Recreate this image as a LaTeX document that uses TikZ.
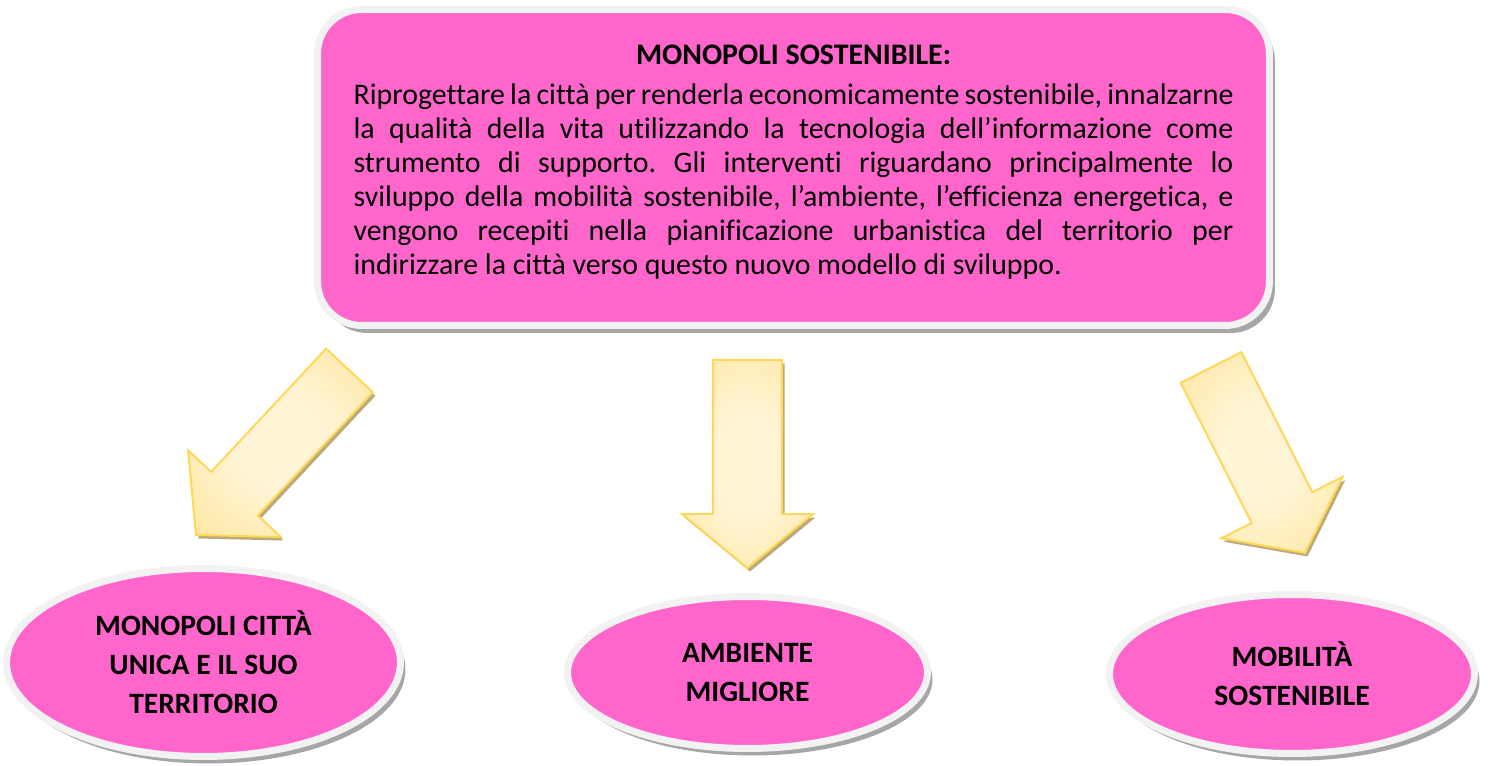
\documentclass[tikz,border=0pt]{standalone}
\usepackage{fontspec}
\setmainfont{Carlito}[Ligatures=NoCommon]
\usepackage{tikz}
\usetikzlibrary{shapes.geometric, shadows, calc}
\definecolor{boxpink}{HTML}{FF66CC}
\definecolor{rimgrey}{HTML}{F2F2F2}
\definecolor{shadegrey}{HTML}{A6A6A6}
\definecolor{arrowlight}{HTML}{FFF4D6}
\definecolor{arrowdark}{HTML}{FFDA68}
\definecolor{arrowline}{HTML}{FFD754}
\definecolor{arrowshade}{HTML}{BBAB7A}
\pgfdeclareradialshading{arrowglow}{\pgfpoint{0bp}{0bp}}{color(0bp)=(arrowlight); color(12bp)=(arrowlight); color(60bp)=(arrowdark); color(75bp)=(arrowdark)}
\tikzstyle{bigbox} = [rectangle, rounded corners=0.88cm,
minimum width=19.04cm,
minimum height=6.32cm,
text width=17.6cm,
inner sep=0pt,
align=justify,
font=\fontsize{17}{19.35}\selectfont\frenchspacing,
draw=rimgrey, line width=0.14cm,
fill=boxpink,
drop shadow={shadow xshift=0.11cm, shadow yshift=-0.15cm, fill=shadegrey, opacity=1}]
\tikzstyle{goal} = [ellipse, inner sep=0pt,
align=center,
font=\bfseries\fontsize{16.8}{22.2}\selectfont,
draw=rimgrey, line width=0.14cm,
fill=boxpink,
drop shadow={shadow xshift=0.1cm, shadow yshift=-0.14cm, fill=shadegrey, opacity=1}]
\tikzstyle{arrowbody} = [draw=arrowline, line width=1.1pt, shading=arrowglow]
\tikzstyle{arrowshadow} = [fill=arrowshade, transform canvas={xshift=0.05cm, yshift=-0.07cm}]
% tail, tip, shaft half width, head half width, head length
\newcommand{\blockarrow}[5]{%
\coordinate (hb) at ($(#2)!#5!(#1)$);
\foreach \sty in {arrowshadow,arrowbody}
\path[\sty] ($(#1)!#3!90:(#2)$) -- ($(hb)!#3!90:(#2)$) -- ($(hb)!#4!90:(#2)$) -- (#2)
-- ($(hb)!#4!-90:(#2)$) -- ($(hb)!#3!-90:(#2)$) -- ($(#1)!#3!-90:(#2)$) -- cycle;
}

\begin{document}
\begin{tikzpicture}[x=0.02cm, y=-0.02cm]
\useasboundingbox (0,0) rectangle (1488,766);

\node (main) [bigbox] at (793.5,167.5) {\centerline{\bfseries MONOPOLI SOSTENIBILE:}\par\vspace{3pt}
Riprogettare la città per renderla economicamente sostenibile, innalzarne\linebreak
la qualità della vita utilizzando la tecnologia dell’informazione come\linebreak
strumento di supporto. Gli interventi riguardano principalmente lo\linebreak
sviluppo della mobilità sostenibile, l’ambiente, l’efficienza energetica, e\linebreak
vengono recepiti nella pianificazione urbanistica del territorio per\linebreak
indirizzare la città verso questo nuovo modello di sviluppo.\par\kern6pt\hrule height 0pt width 0pt};

\node (city) [goal, minimum width=7.88cm, minimum height=3.76cm] at (203.5,662.5) {MONOPOLI CITTÀ\\UNICA E IL SUO\\TERRITORIO};

\node (env) [goal, minimum width=7.2cm, minimum height=3.04cm] at (747.5,672.5) {AMBIENTE\\MIGLIORE};

\node (mob) [goal, minimum width=7.3cm, minimum height=3.18cm] at (1292,674) {MOBILITÀ\\SOSTENIBILE};

\coordinate (ltail) at (349.5,370.5);
\coordinate (ltip) at (196,535);
\coordinate (mtail) at (747.5,360);
\coordinate (mtip) at (747.5,568);
\coordinate (rtail) at (1211,367.5);
\coordinate (rtip) at (1305,553);

\blockarrow{ltail}{ltip}{0.64cm}{1.27cm}{1.13cm}
\blockarrow{mtail}{mtip}{0.69cm}{1.31cm}{1.08cm}
\blockarrow{rtail}{rtip}{0.68cm}{1.36cm}{1.02cm}

\end{tikzpicture}
\end{document}
